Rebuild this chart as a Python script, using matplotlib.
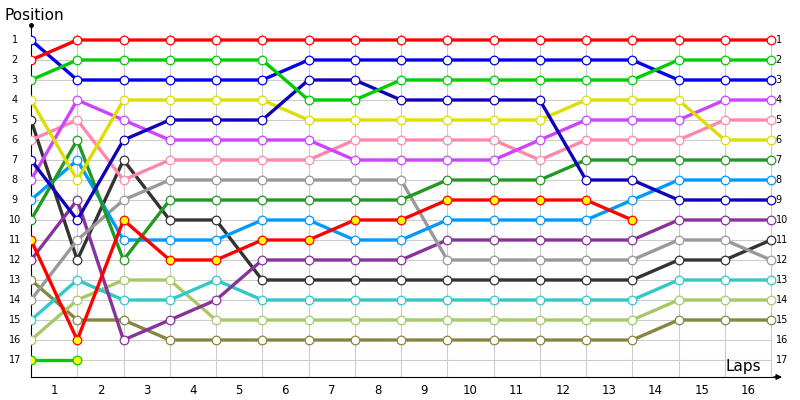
import matplotlib.pyplot as plt

plt.rcParams['font.family'] = ['DejaVu Sans']

laps = list(range(0, 17))
lap_labels = [str(i) for i in range(1, 17)]
positions = list(range(1, 18))

# positions per driver, lap 0 (start) .. last lap completed
red = [2, 1, 1, 1, 1, 1, 1, 1, 1, 1, 1, 1, 1, 1, 1, 1, 1]
green = [3, 2, 2, 2, 2, 2, 4, 4, 3, 3, 3, 3, 3, 3, 2, 2, 2]
blue = [1, 3, 3, 3, 3, 3, 2, 2, 2, 2, 2, 2, 2, 2, 3, 3, 3]
navy = [7, 10, 6, 5, 5, 5, 3, 3, 4, 4, 4, 4, 8, 8, 9, 9, 9]
yellow = [4, 8, 4, 4, 4, 4, 5, 5, 5, 5, 5, 5, 4, 4, 4, 6, 6]
violet = [8, 4, 5, 6, 6, 6, 6, 7, 7, 7, 7, 6, 5, 5, 5, 4, 4]
pink = [6, 5, 8, 7, 7, 7, 7, 6, 6, 6, 6, 7, 6, 6, 6, 5, 5]
gray = [14, 11, 9, 8, 8, 8, 8, 8, 8, 12, 12, 12, 12, 12, 11, 11, 12]
dkgreen = [10, 6, 12, 9, 9, 9, 9, 9, 9, 8, 8, 8, 7, 7, 7, 7, 7]
ltblue = [9, 7, 11, 11, 11, 10, 10, 11, 11, 10, 10, 10, 10, 9, 8, 8, 8]
red2 = [11, 16, 10, 12, 12, 11, 11, 10, 10, 9, 9, 9, 9, 10]
purple = [12, 9, 16, 15, 14, 12, 12, 12, 12, 11, 11, 11, 11, 11, 10, 10, 10]
black = [5, 12, 7, 10, 10, 13, 13, 13, 13, 13, 13, 13, 13, 13, 12, 12, 11]
teal = [15, 13, 14, 14, 13, 14, 14, 14, 14, 14, 14, 14, 14, 14, 13, 13, 13]
ltgreen = [16, 14, 13, 13, 15, 15, 15, 15, 15, 15, 15, 15, 15, 15, 14, 14, 14]
olive = [13, 15, 15, 16, 16, 16, 16, 16, 16, 16, 16, 16, 16, 16, 15, 15, 15]
green2 = [17, 17]

drivers = [
    (olive, '#868640', 'white'),
    (ltgreen, '#a8c868', 'white'),
    (teal, '#33c8c8', 'white'),
    (black, '#333333', 'white'),
    (purple, '#883399', 'white'),
    (gray, '#999999', 'white'),
    (ltblue, '#0099ff', 'white'),
    (dkgreen, '#229922', 'white'),
    (pink, '#ff88aa', 'white'),
    (violet, '#cc44ff', 'white'),
    (yellow, '#dddd00', 'white'),
    (navy, '#1100bb', 'white'),
    (blue, '#0000ee', 'white'),
    (green, '#00cc00', 'white'),
    (red2, '#ff0000', '#ffff00'),
    (green2, '#00cc00', '#ffff00'),
    (red, '#ff0000', 'white'),
]

fig = plt.figure(figsize=(8, 4), dpi=100)
ax = fig.add_axes([31 / 800, 23 / 400, (785 - 31) / 800, (380 - 23) / 400])
x_max = (785 - 31) / 46.25
ax.set_xlim(0, x_max)
ax.set_ylim(17.85, 0)

# grid
ax.hlines(positions, 0, 16, color='#cccccc', lw=0.8, zorder=0)
ax.vlines(laps[1:], 0.65, 17.85, color='#cccccc', lw=0.8, zorder=0)

for pos, col, face in drivers:
    ax.plot(laps[:len(pos)], pos, '-', color=col, lw=2.4, zorder=2)
    ax.plot(laps[:len(pos)], pos, 'o', ms=6.2, mfc=face, mec=col, mew=0.9, zorder=3)

for spine in ['top', 'right']:
    ax.spines[spine].set_visible(False)
ax.spines['left'].set_bounds(17.85, 0.25)
ax.spines['bottom'].set_bounds(0, 16.2)
ax.plot([0], [0.25], 'o', color='black', ms=2.5, clip_on=False, zorder=4)
ax.annotate('', xy=(16.3, 17.85), xytext=(16.0, 17.85),
            arrowprops=dict(arrowstyle='-|>', color='black', lw=1, mutation_scale=8),
            annotation_clip=False)

ax.set_xticks([])
ax.set_yticks([])
for i, lab in enumerate(lap_labels):
    ax.text(i + 0.5, 18.5, lab, ha='center', va='center', fontsize=8.5)
for p in positions:
    ax.text(-0.35, p, str(p), ha='center', va='center', fontsize=7)
    ax.text(16.1, p, str(p), ha='left', va='center', fontsize=7)

fig.text(5 / 800, 1 - 15 / 400, 'Position', ha='left', va='center', fontsize=11)
ax.text(15.4, 17.3, 'Laps', ha='center', va='center', fontsize=11)

fig.savefig('out.png', dpi=100)
